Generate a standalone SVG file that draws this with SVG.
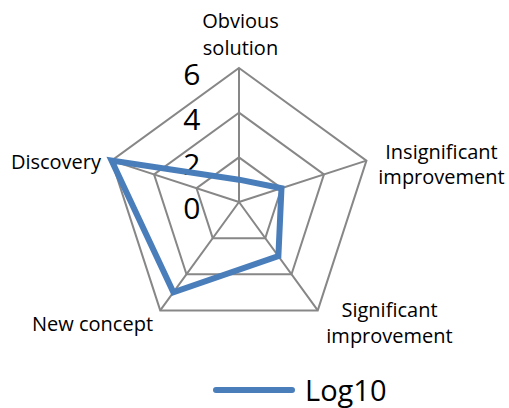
<svg xmlns="http://www.w3.org/2000/svg" width="509" height="408" viewBox="0 0 509 408">
  <style>
    .grid { fill: none; stroke: #878787; stroke-width: 2; }
    .cat { font-family: "Open Sans", "Liberation Sans", sans-serif; font-size: 20px; fill: #000; }
    .tick { font-family: "Open Sans", "Liberation Sans", sans-serif; font-size: 30px; fill: #000; text-anchor: end; }
    .series { fill: none; stroke: #4a7ebb; stroke-width: 6; stroke-linejoin: miter; stroke-miterlimit: 10; }
  </style>
  <rect width="509" height="408" fill="#ffffff"/>
  <g id="grid">
    <polygon class="grid" points="239,68 366.44,160.59 317.76,310.41 160.24,310.41 111.56,160.59"/>
    <polygon class="grid" points="239,112.67 323.96,174.4 291.51,274.27 186.49,274.27 154.04,174.4"/>
    <polygon class="grid" points="239,157.33 281.48,188.2 265.26,238.14 212.74,238.14 196.52,188.2"/>
    <path class="grid" d="M239,202 L239,68 M239,202 L366.44,160.59 M239,202 L317.76,310.41 M239,202 L160.24,310.41 M239,202 L111.56,160.59"/>
  </g>
  <g id="axis-ticks">
    <text class="tick" x="200.5" y="84.5">6</text>
    <text class="tick" x="200.5" y="129.5">4</text>
    <text class="tick" x="200.5" y="174.5">2</text>
    <text class="tick" x="200.5" y="219.3">0</text>
  </g>
  <g id="series-log10">
    <polygon class="series" points="239,179.67 281.48,188.2 278.38,256.2 173.36,292.34 111.56,160.59"/>
  </g>
  <g id="label-obvious">
    <text class="cat" x="240.5" y="28" text-anchor="middle">Obvious</text>
    <text class="cat" x="240.5" y="55" text-anchor="middle">solution</text>
  </g>
  <g id="label-insignificant">
    <text class="cat" x="441.5" y="159" text-anchor="middle">Insignificant</text>
    <text class="cat" x="441.5" y="184" text-anchor="middle">improvement</text>
  </g>
  <g id="label-significant">
    <text class="cat" x="389.5" y="316.5" text-anchor="middle">Significant</text>
    <text class="cat" x="389.5" y="343" text-anchor="middle">improvement</text>
  </g>
  <g id="label-new-concept">
    <text class="cat" x="92.5" y="331" text-anchor="middle">New concept</text>
  </g>
  <g id="label-discovery">
    <text class="cat" x="101" y="169" text-anchor="end">Discovery</text>
  </g>
  <g id="legend">
    <line x1="216" y1="390" x2="292" y2="390" stroke="#4a7ebb" stroke-width="6" stroke-linecap="round"/>
    <text x="305" y="400.5" font-family="'Open Sans', 'Liberation Sans', sans-serif" font-size="29" fill="#000">Log10</text>
  </g>
</svg>
